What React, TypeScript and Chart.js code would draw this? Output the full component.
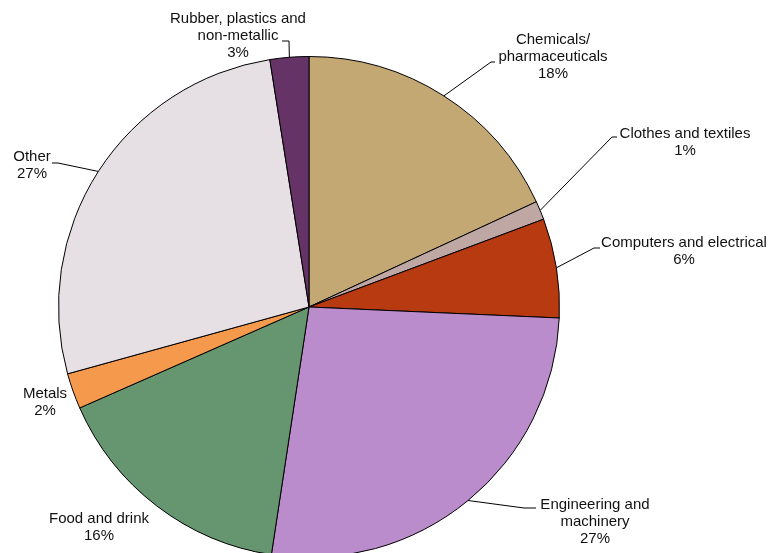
import React, { useEffect, useRef } from "react";
import { Chart, registerables } from "chart.js";

Chart.register(...registerables);

const categories = [
  "Chemicals/\npharmaceuticals",
  "Clothes and textiles",
  "Computers and electrical",
  "Engineering and\nmachinery",
  "Food and drink",
  "Metals",
  "Other",
  "Rubber, plastics and\nnon-metallic",
];
const shares = [18.1, 1.2, 6.4, 26.7, 16.0, 2.3, 26.8, 2.5];
const colors = ["#C4A874", "#BFA8A3", "#B83A10", "#BB8CCB", "#669670", "#F5994D", "#E6E0E5", "#663366"];

// label layout: text block centre (first line), and optional leader elbow/end points
const labelLayout = [
  { x: 553, y: 40, leader: [[491, 62], [495, 62]] },
  { x: 685, y: 134, leader: [[612, 137], [617, 137]] },
  { x: 684, y: 243, leader: [[594, 248], [600, 248]] },
  { x: 595, y: 505, leader: [[524, 508], [536, 508]] },
  { x: 99, y: 519, leader: null },
  { x: 45, y: 394, leader: null },
  { x: 32, y: 157, leader: [[58, 163], [52, 163]] },
  { x: 238, y: 19, leader: [[289, 41], [282, 41]] },
];

const LINE_H = 17;

const labelPlugin = {
  id: "pieLabels",
  afterDraw(chart: any) {
    const ctx = chart.ctx;
    const meta = chart.getDatasetMeta(0);
    const total = shares.reduce((a, b) => a + b, 0);
    ctx.save();
    meta.data.forEach((arc: any, i: number) => {
      const lay = labelLayout[i];
      const { x, y, startAngle, endAngle, outerRadius } = arc.getProps(
        ["x", "y", "startAngle", "endAngle", "outerRadius"],
        true
      );
      const mid = (startAngle + endAngle) / 2;
      if (lay.leader) {
        const ex = x + Math.cos(mid) * outerRadius;
        const ey = y + Math.sin(mid) * outerRadius;
        ctx.beginPath();
        ctx.strokeStyle = "#000";
        ctx.lineWidth = 1;
        ctx.moveTo(ex, ey);
        lay.leader.forEach((p: number[]) => ctx.lineTo(p[0], p[1]));
        ctx.stroke();
      }
      const pct = Math.round((shares[i] / total) * 100) + "%";
      const lines = categories[i].split("\n").concat([pct]);
      ctx.fillStyle = "#111";
      ctx.font = "15px 'Liberation Sans', Arial, sans-serif";
      ctx.textAlign = "center";
      ctx.textBaseline = "middle";
      lines.forEach((t: string, k: number) => {
        ctx.fillText(t, lay.x, lay.y + k * LINE_H);
      });
    });
    ctx.restore();
  },
};

export default function App() {
  const ref = useRef<HTMLCanvasElement>(null);
  useEffect(() => {
    if (!ref.current) return;
    const chart = new Chart(ref.current, {
      type: "pie",
      data: {
        labels: categories,
        datasets: [
          {
            data: shares,
            backgroundColor: colors,
            borderColor: "#000",
            borderWidth: 1,
          },
        ],
      },
      options: {
        responsive: false,
        animation: false,
        layout: { padding: { left: 58, top: 56, right: 213, bottom: 62 } },
        plugins: { legend: { display: false }, tooltip: { enabled: false } },
      },
      plugins: [labelPlugin],
    });
    return () => chart.destroy();
  }, []);
  return (
    <div
      style={{
        position: "fixed",
        left: 0,
        top: 0,
        width: 773,
        height: 553,
        overflow: "hidden",
        background: "#fff",
      }}
    >
      <canvas ref={ref} width={773} height={620} style={{ width: 773, height: 620 }} />
    </div>
  );
}
